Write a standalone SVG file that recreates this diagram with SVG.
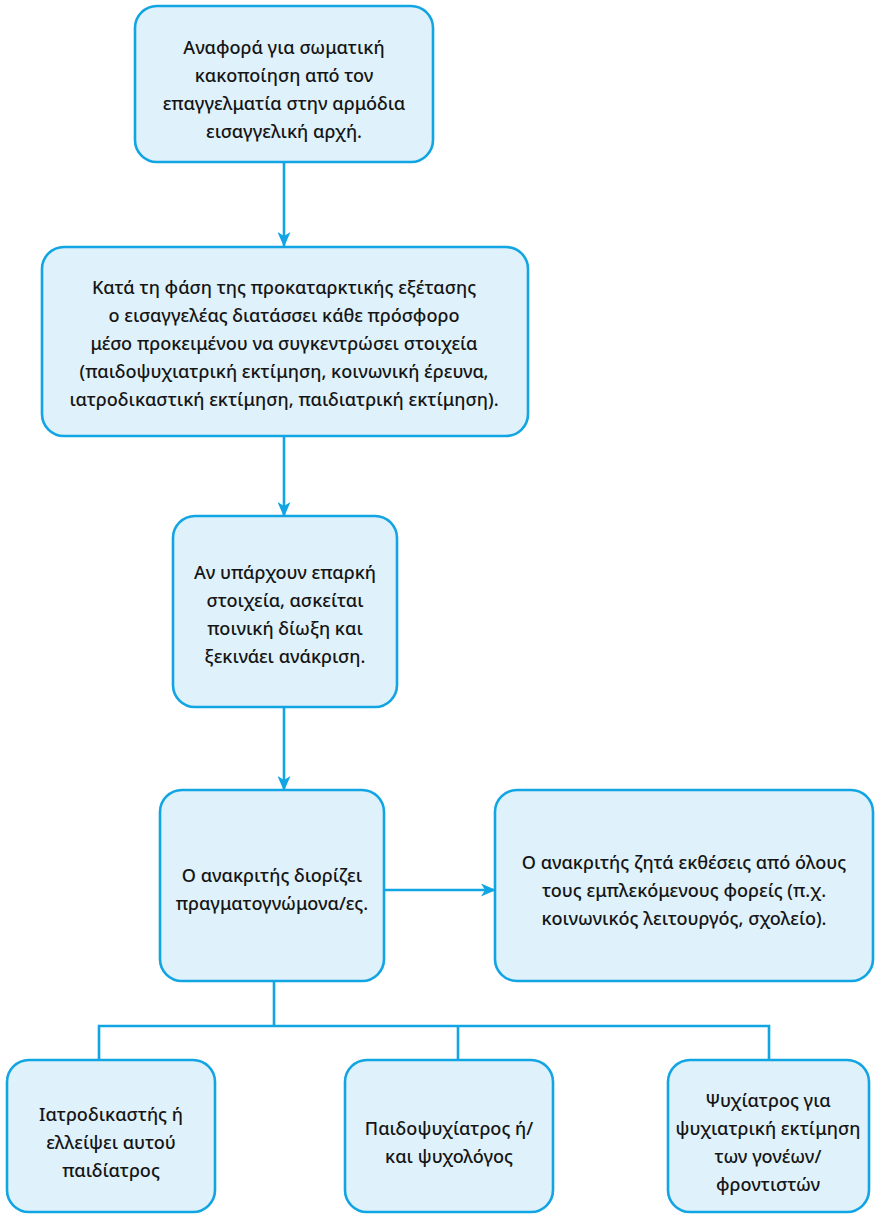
<svg xmlns="http://www.w3.org/2000/svg" width="875" height="1215" viewBox="0 0 875 1215">
<defs>
<style>
.box{fill:#dff1fb;stroke:#12a5e3;stroke-width:2.6}
.ln{fill:none;stroke:#12a5e3;stroke-width:2.6}
text{font-family:"Noto Sans","Open Sans",sans-serif;font-size:18.1px;font-weight:500;fill:#151515;text-anchor:middle;dominant-baseline:central}
</style>
<marker id="ah" viewBox="0 0 15 13" refX="14" refY="6.5" markerWidth="15" markerHeight="13" markerUnits="userSpaceOnUse" orient="auto">
<path d="M0,0 L15,6.5 L0,13 L4,6.5 Z" fill="#12a5e3"/>
</marker>
</defs>
<rect width="875" height="1215" fill="#ffffff"/>
<g id="connectors">
<line class="ln" x1="284" y1="162" x2="284" y2="246" marker-end="url(#ah)"/>
<line class="ln" x1="284" y1="436" x2="284" y2="516" marker-end="url(#ah)"/>
<line class="ln" x1="284" y1="707" x2="284" y2="790" marker-end="url(#ah)"/>
<line class="ln" x1="384" y1="890" x2="495" y2="890" marker-end="url(#ah)"/>
<path class="ln" d="M274,981 V1026 M99,1060 V1026 H769 V1060 M458,1026 V1060"/>
</g>
<g id="n1">
<rect class="box" x="135" y="6" width="298" height="156" rx="22"/>
<text x="284" y="47">Αναφορά για σωματική</text>
<text x="284" y="75">κακοποίηση από τον</text>
<text x="284" y="103">επαγγελματία στην αρμόδια</text>
<text x="284" y="131">εισαγγελική αρχή.</text>
</g>
<g id="n2">
<rect class="box" x="42" y="247" width="486" height="189" rx="22"/>
<text x="284" y="287">Κατά τη φάση της προκαταρκτικής εξέτασης</text>
<text x="284" y="315">ο εισαγγελέας διατάσσει κάθε πρόσφορο</text>
<text x="284" y="343">μέσο προκειμένου να συγκεντρώσει στοιχεία</text>
<text x="284" y="371">(παιδοψυχιατρική εκτίμηση, κοινωνική έρευνα,</text>
<text x="284" y="399">ιατροδικαστική εκτίμηση, παιδιατρική εκτίμηση).</text>
</g>
<g id="n3">
<rect class="box" x="173" y="516" width="224" height="191" rx="22"/>
<text x="285" y="572">Αν υπάρχουν επαρκή</text>
<text x="285" y="600">στοιχεία, ασκείται</text>
<text x="285" y="628">ποινική δίωξη και</text>
<text x="285" y="656">ξεκινάει ανάκριση.</text>
</g>
<g id="n4">
<rect class="box" x="160" y="790" width="224" height="191" rx="22"/>
<text x="272" y="875">Ο ανακριτής διορίζει</text>
<text x="272" y="903">πραγματογνώμονα/ες.</text>
</g>
<g id="n5">
<rect class="box" x="495" y="790" width="378" height="191" rx="22"/>
<text x="684" y="862">Ο ανακριτής ζητά εκθέσεις από όλους</text>
<text x="684" y="890">τους εμπλεκόμενους φορείς (π.χ.</text>
<text x="684" y="918">κοινωνικός λειτουργός, σχολείο).</text>
</g>
<g id="n6">
<rect class="box" x="7" y="1060" width="208" height="152" rx="22"/>
<text x="111" y="1114">Ιατροδικαστής ή</text>
<text x="111" y="1142">ελλείψει αυτού</text>
<text x="111" y="1170">παιδίατρος</text>
</g>
<g id="n7">
<rect class="box" x="345" y="1060" width="208" height="152" rx="22"/>
<text x="449" y="1128">Παιδοψυχίατρος ή/</text>
<text x="449" y="1156">και ψυχολόγος</text>
</g>
<g id="n8">
<rect class="box" x="668" y="1060" width="201" height="152" rx="22"/>
<text x="768" y="1100">Ψυχίατρος για</text>
<text x="768" y="1128">ψυχιατρική εκτίμηση</text>
<text x="768" y="1156">των γονέων/</text>
<text x="768" y="1184">φροντιστών</text>
</g>
</svg>
